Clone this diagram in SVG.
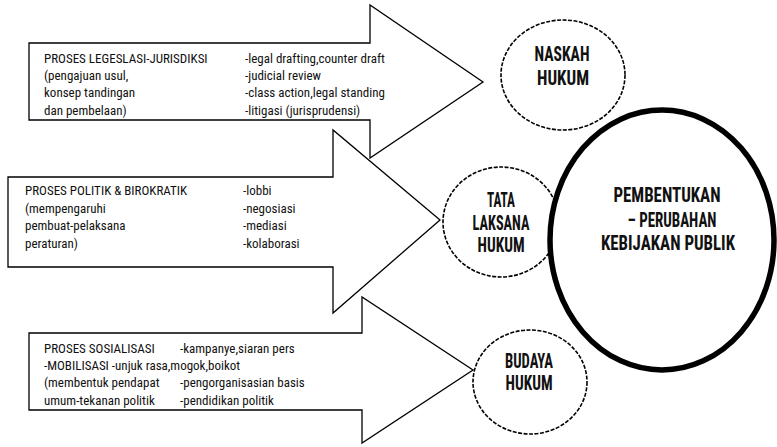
<svg xmlns="http://www.w3.org/2000/svg" width="777" height="447" viewBox="0 0 777 447">
<style>
.arrow{fill:#fff;stroke:#000;stroke-width:1.3}
.t{font-family:"Liberation Sans Narrow","Roboto Condensed","DejaVu Sans Condensed","Liberation Sans",sans-serif;font-stretch:condensed;font-size:13px;fill:#111}
.b{font-family:"Liberation Sans Narrow","Roboto Condensed","DejaVu Sans Condensed","Liberation Sans",sans-serif;font-stretch:condensed;font-weight:bold;font-size:20px;fill:#111;text-anchor:middle}
.small{fill:#fff;stroke:#000;stroke-width:1.6;stroke-dasharray:4 1.5}
.big{fill:#fff;stroke:#000;stroke-width:5.5}
</style>
<g id="connectors">
<polygon id="arrow1" class="arrow" points="29,43 370,43 370,5 483,82 370,158 370,120 29,120"/>
<polygon id="arrow2" class="arrow" points="8,177 333,177 333,130 440,220 333,313 333,267 8,267"/>
<polygon id="arrow3" class="arrow" points="29,333 362,333 362,297 473,370 362,443 362,410 29,410"/>
</g>
<g id="text1" class="t">
<text x="44" y="63">PROSES LEGESLASI-JURISDIKSI</text>
<text x="44" y="80">(pengajuan usul,</text>
<text x="44" y="97">konsep tandingan</text>
<text x="44" y="115">dan pembelaan)</text>
<text x="245" y="63">-legal drafting,counter draft</text>
<text x="245" y="80">-judicial review</text>
<text x="245" y="97">-class action,legal standing</text>
<text x="245" y="115">-litigasi (jurisprudensi)</text>
</g>
<g id="text2" class="t">
<text x="25" y="195">PROSES POLITIK &amp; BIROKRATIK</text>
<text x="25" y="213">(mempengaruhi</text>
<text x="25" y="230">pembuat-pelaksana</text>
<text x="25" y="248">peraturan)</text>
<text x="243" y="195">-lobbi</text>
<text x="243" y="213">-negosiasi</text>
<text x="243" y="230">-mediasi</text>
<text x="243" y="248">-kolaborasi</text>
</g>
<g id="text3" class="t">
<text x="44" y="353">PROSES SOSIALISASI</text>
<text x="44" y="370">-MOBILISASI -unjuk rasa,mogok,boikot</text>
<text x="44" y="387">(membentuk pendapat</text>
<text x="44" y="405">umum-tekanan politik</text>
<text x="180" y="353">-kampanye,siaran pers</text>
<text x="180" y="387">-pengorganisasian basis</text>
<text x="180" y="405">-pendidikan politik</text>
</g>
<g id="naskah">
<ellipse class="small" cx="563" cy="75" rx="62" ry="55"/>
<text class="b" x="562" y="61" textLength="55" lengthAdjust="spacingAndGlyphs">NASKAH</text>
<text class="b" x="563" y="85" textLength="52" lengthAdjust="spacingAndGlyphs">HUKUM</text>
</g>
<g id="tata">
<ellipse class="small" cx="501" cy="222" rx="58" ry="55"/>
<text class="b" x="501" y="207" textLength="28" lengthAdjust="spacingAndGlyphs">TATA</text>
<text class="b" x="501" y="230" textLength="57" lengthAdjust="spacingAndGlyphs">LAKSANA</text>
<text class="b" x="501" y="252" textLength="47" lengthAdjust="spacingAndGlyphs">HUKUM</text>
</g>
<g id="budaya">
<ellipse class="small" cx="530" cy="382" rx="57" ry="52"/>
<text class="b" x="529" y="368" textLength="48" lengthAdjust="spacingAndGlyphs">BUDAYA</text>
<text class="b" x="529" y="390" textLength="47" lengthAdjust="spacingAndGlyphs">HUKUM</text>
</g>
<g id="kebijakan">
<ellipse class="big" cx="662" cy="240" rx="112" ry="130"/>
<text class="b" x="667" y="202" textLength="107" lengthAdjust="spacingAndGlyphs">PEMBENTUKAN</text>
<text class="b" x="672" y="227" textLength="89" lengthAdjust="spacingAndGlyphs">– PERUBAHAN</text>
<text class="b" x="668" y="250" textLength="134" lengthAdjust="spacingAndGlyphs">KEBIJAKAN PUBLIK</text>
</g>
</svg>
